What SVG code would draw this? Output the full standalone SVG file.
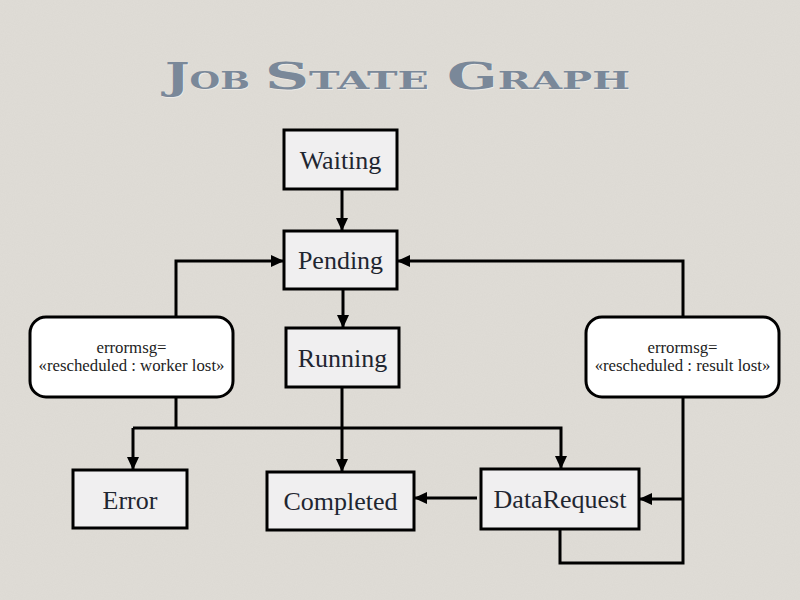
<svg xmlns="http://www.w3.org/2000/svg" width="800" height="600" viewBox="0 0 800 600">
  <defs>
    <filter id="paper" x="0" y="0" width="100%" height="100%">
      <feTurbulence type="fractalNoise" baseFrequency="0.9" numOctaves="2" seed="3" result="n"/>
      <feColorMatrix type="matrix" values="0 0 0 0 0.5  0 0 0 0 0.48  0 0 0 0 0.45  0 0 0 0.12 0"/>
    </filter>
    <marker id="arrow" markerWidth="14" markerHeight="14" refX="12" refY="7" orient="auto" markerUnits="userSpaceOnUse">
      <path d="M0,1 L13,7 L0,13 Z" fill="#000"/>
    </marker>
    <style>
      .node rect { fill: #f0eff0; stroke: #000; stroke-width: 3; }
      .node text { font-family: "Liberation Serif", "DejaVu Serif", serif; font-size: 26px; fill: #1f2630; text-anchor: middle; }
      .note rect { fill: #ffffff; stroke: #000; stroke-width: 3; }
      .note text { font-family: "Liberation Serif", "DejaVu Serif", serif; font-size: 16.8px; fill: #222; text-anchor: middle; }
      .conn path { fill: none; stroke: #000; stroke-width: 3; }
      .title { font-family: "DejaVu Serif", "Liberation Serif", serif; font-weight: bold; fill: #7a8899; }
      .shadow { fill: #ffffff; opacity: 0.4; }
      .big { font-size: 37px; }
      .sm { font-size: 25px; }
    </style>
  </defs>

  <rect x="0" y="0" width="800" height="600" fill="#e0ddd7"/>
  <rect x="0" y="0" width="800" height="600" filter="url(#paper)"/>

  <g id="title">
    <g class="title shadow" transform="translate(0.8,1.2)">
      <text x="165" y="89" textLength="85" lengthAdjust="spacingAndGlyphs"><tspan class="big">J</tspan><tspan class="sm">OB</tspan></text>
      <text x="265" y="89" textLength="164" lengthAdjust="spacingAndGlyphs"><tspan class="big">S</tspan><tspan class="sm">TATE</tspan></text>
      <text x="447" y="89" textLength="183" lengthAdjust="spacingAndGlyphs"><tspan class="big">G</tspan><tspan class="sm">RAPH</tspan></text>
    </g>
    <g class="title">
      <text x="165" y="89" textLength="85" lengthAdjust="spacingAndGlyphs"><tspan class="big">J</tspan><tspan class="sm">OB</tspan></text>
      <text x="265" y="89" textLength="164" lengthAdjust="spacingAndGlyphs"><tspan class="big">S</tspan><tspan class="sm">TATE</tspan></text>
      <text x="447" y="89" textLength="183" lengthAdjust="spacingAndGlyphs"><tspan class="big">G</tspan><tspan class="sm">RAPH</tspan></text>
    </g>
  </g>

  <g id="connectors" class="conn">
    <path d="M342,189 V230" marker-end="url(#arrow)"/>
    <path d="M343,289 V327" marker-end="url(#arrow)"/>
    <path d="M176,317 V261 H283" marker-end="url(#arrow)"/>
    <path d="M176,397 V428"/>
    <path d="M342,387 V471" marker-end="url(#arrow)"/>
    <path d="M133,428 H561 V468" marker-end="url(#arrow)"/>
    <path d="M133,428 V469" marker-end="url(#arrow)"/>
    <path d="M683,317 V261 H398" marker-end="url(#arrow)"/>
    <path d="M683,397 V563 H560 V529"/>
    <path d="M683,499 H640" marker-end="url(#arrow)"/>
    <path d="M477,498 H415" marker-end="url(#arrow)"/>
  </g>

  <g id="node-waiting" class="node">
    <rect x="284" y="130" width="113" height="59"/>
    <text x="340.5" y="169">Waiting</text>
  </g>
  <g id="node-pending" class="node">
    <rect x="284" y="231" width="113" height="58"/>
    <text x="340.5" y="269">Pending</text>
  </g>
  <g id="node-running" class="node">
    <rect x="286" y="328" width="113" height="59"/>
    <text x="342.5" y="367">Running</text>
  </g>
  <g id="node-error" class="node">
    <rect x="73" y="470" width="114" height="58"/>
    <text x="130" y="509">Error</text>
  </g>
  <g id="node-completed" class="node">
    <rect x="267" y="472" width="147" height="58"/>
    <text x="340.5" y="510">Completed</text>
  </g>
  <g id="node-datarequest" class="node">
    <rect x="481" y="469" width="158" height="60"/>
    <text x="560" y="508">DataRequest</text>
  </g>

  <g id="note-worker-lost" class="note">
    <rect x="30" y="317" width="203" height="80" rx="16" ry="16"/>
    <text x="131.5" y="353">errormsg=</text>
    <text x="131.5" y="371">«rescheduled : worker lost»</text>
  </g>
  <g id="note-result-lost" class="note">
    <rect x="586" y="317" width="193" height="80" rx="16" ry="16"/>
    <text x="682.5" y="353">errormsg=</text>
    <text x="682.5" y="371">«rescheduled : result lost»</text>
  </g>
</svg>
